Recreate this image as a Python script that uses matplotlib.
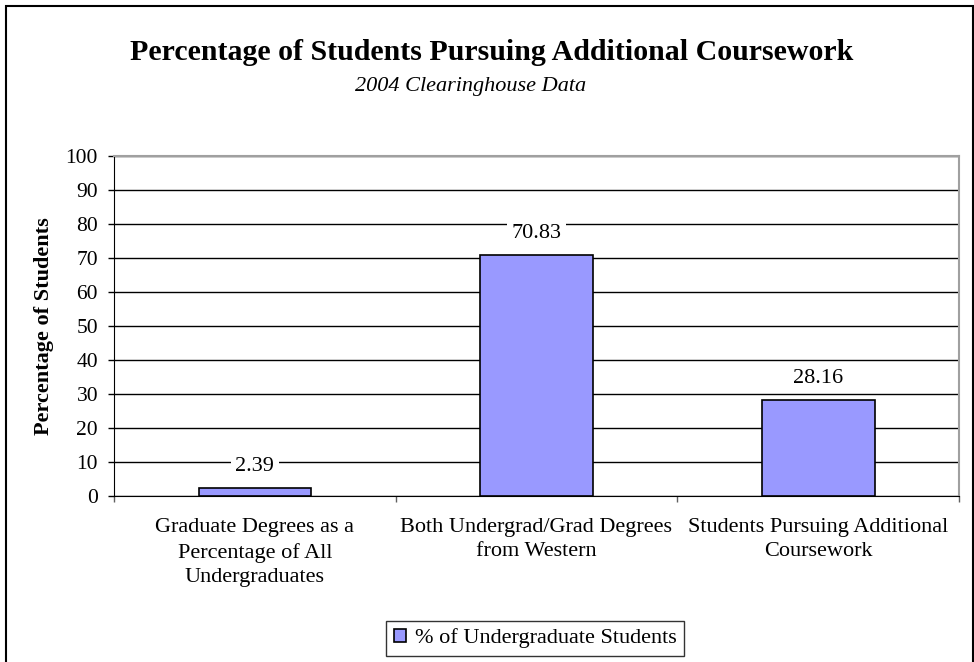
import matplotlib
matplotlib.use("Agg")
import matplotlib.pyplot as plt
from matplotlib.patches import Rectangle

categories = ["Graduate Degrees as a\nPercentage of All\nUndergraduates",
              "Both Undergrad/Grad Degrees\nfrom Western",
              "Students Pursuing Additional\nCoursework"]
values = [2.39, 70.83, 28.16]
value_labels = ["2.39", "70.83", "28.16"]
series_name = "% of Undergraduate Students"
yticks = [0, 10, 20, 30, 40, 50, 60, 70, 80, 90, 100]

plt.rcParams['font.family'] = ['Liberation Serif', 'DejaVu Serif']

fig = plt.figure(figsize=(9.74, 6.62), dpi=100)
fig.patch.set_facecolor('white')
# figure border (bottom edge falls outside the image)
fig.add_artist(Rectangle((6 / 974, -0.02), 967 / 974, 1.02 - 6 / 662,
                         transform=fig.transFigure, fill=False,
                         edgecolor='black', linewidth=1.5))

ax = fig.add_axes([114 / 974, 1 - 496 / 662, 845 / 974, 340 / 662])
x = list(range(len(categories)))
ax.bar(x, values, width=0.4, color='#9999FF', edgecolor='black', linewidth=1.2,
       label=series_name, zorder=3)
ax.set_xlim(-0.5, 2.5)
ax.set_ylim(0, 100)
ax.set_yticks(yticks)
ax.set_yticklabels([str(t) for t in yticks], fontsize=15.5)
ax.yaxis.grid(True, color='black', linewidth=1.0, zorder=0)
ax.set_axisbelow(True)

for s in ['top', 'right']:
    ax.spines[s].set_color('#a0a0a0')
    ax.spines[s].set_linewidth(1.5)
ax.spines['left'].set_color('black')
ax.spines['bottom'].set_color('black')
ax.tick_params(axis='y', direction='out', length=4.5, width=1, pad=7)

# category ticks at boundaries
ax.set_xticks([-0.5, 0.5, 1.5, 2.5])
ax.set_xticklabels([])
ax.tick_params(axis='x', direction='out', length=4.5, width=1, color='#606060')
for xi, lab in zip(x, categories):
    ax.text(xi, -6.5, lab, ha='center', va='top', fontsize=16, linespacing=1.37,
            transform=ax.transData)

for xi, v, lab in zip(x, values, value_labels):
    ax.annotate(lab, (xi, v), xytext=(0, 15.5), textcoords='offset points',
                ha='center', va='center', fontsize=16,
                bbox=dict(boxstyle='square,pad=0.2', facecolor='white', edgecolor='none'),
                zorder=4)

ax.set_ylabel("Percentage of Students", fontsize=16, fontweight='bold')
ax.yaxis.set_label_coords(-(114 - 54) / 845, 0.5)

fig.text(491.5 / 974, 1 - 52 / 662, "Percentage of Students Pursuing Additional Coursework",
         ha='center', va='center', fontsize=21.5, fontweight='bold')
fig.text(471 / 974, 1 - 87 / 662, "2004 Clearinghouse Data", ha='center', va='center',
         fontsize=16, style='italic')

leg = fig.legend(loc='center', bbox_to_anchor=(535 / 974, 1 - 638.5 / 662), fontsize=16,
                 frameon=True, fancybox=False, edgecolor='black', handlelength=0.55,
                 handleheight=0.55, handletextpad=0.4, borderpad=0.35,
                 borderaxespad=0)
leg.get_frame().set_linewidth(1.0)

fig.savefig("out.png", dpi=100)
